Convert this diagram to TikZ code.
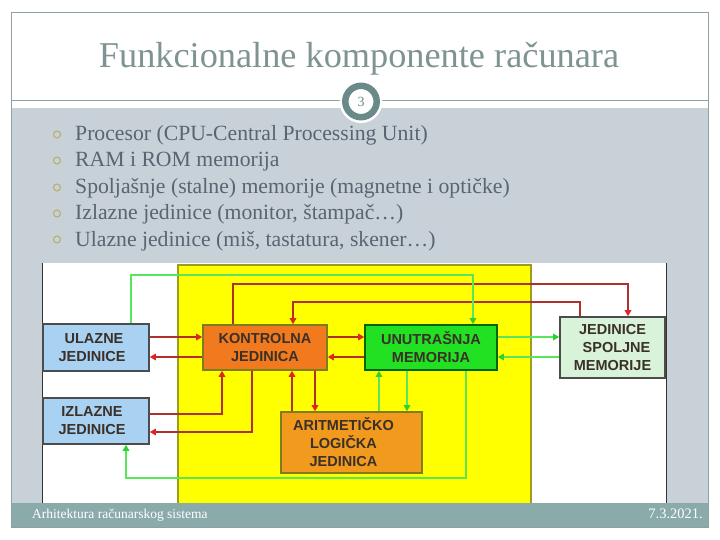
\documentclass[tikz,border=0pt]{standalone}
\usepackage{fontspec}
\setmainfont{Liberation Serif}
\setsansfont{Liberation Sans}
\usetikzlibrary{arrows.meta}
\definecolor{titlec}{HTML}{7F9393}
\definecolor{bodyc}{HTML}{5A6472}
\definecolor{graybg}{HTML}{C7D1D7}
\definecolor{footc}{HTML}{8BABAB}
\definecolor{ringc}{HTML}{6A8A8A}
\definecolor{bulc}{HTML}{B4AE62}
\definecolor{framec}{HTML}{8FA0A0}
\definecolor{yelc}{HTML}{FFFF00}
\definecolor{yelb}{HTML}{9C9C20}
\definecolor{bluec}{HTML}{A9D1F2}
\definecolor{kontc}{HTML}{F27A1E}
\definecolor{aluc}{HTML}{F29A1E}
\definecolor{memc}{HTML}{22E022}
\definecolor{spc}{HTML}{D9F2DA}
\definecolor{redl}{HTML}{B0302E}
\definecolor{redt}{HTML}{E02424}
\definecolor{grnl}{HTML}{5AE65A}
\definecolor{grnt}{HTML}{30D030}
\definecolor{boxtext}{HTML}{3A3028}
\tikzset{
  unit/.style={draw=#1, line width=1.6pt, font=\sffamily\bfseries\fontsize{14.5}{18}\selectfont,
    text=boxtext, align=center, inner sep=0pt},
  redc/.style={draw=redl, line width=1.8pt, -{Triangle[length=6pt,width=6.5pt,color=redt]}},
  grnc/.style={draw=grnl, line width=2pt, -{Triangle[length=6pt,width=6.5pt,color=grnt]}},
  bul/.style={circle, draw=bulc, line width=1pt, minimum size=7pt, inner sep=0pt},
  item/.style={anchor=base west, text=bodyc, font=\fontsize{21.7}{24}\selectfont, inner sep=0pt}
}
\begin{document}
\begin{tikzpicture}[x=1pt,y=-1pt]
\useasboundingbox (0,0) rectangle (720,540);
\fill[white] (0,0) rectangle (720,540);
% slide frame
\fill[graybg] (11,108) rectangle (708,503);
\fill[footc] (11,503) rectangle (708,527);
\draw[framec, line width=0.8pt] (11,12) rectangle (708,527);
\draw[framec, line width=0.8pt] (11,100) -- (708,100);
% title
\node[anchor=base, text=titlec, font=\fontsize{36.3}{42}\selectfont, inner sep=0pt] (title) at (359,68) {Funkcionalne komponente računara};
% slide number
\fill[white] (361,101.5) circle (21.5);
\draw[ringc, line width=6.5pt] (361,101.5) circle (15.7);
\node[text=ringc, font=\fontsize{14}{16}\selectfont, inner sep=0pt] (num) at (361,101.5) {3};
% bullets
\foreach \yy in {141,167,194,220,246} { \node[bul] at (57,\yy-6.5) {}; }
\node[item] (i1) at (75,141) {Procesor (CPU-Central Processing Unit)};
\node[item] (i2) at (75,167) {RAM i ROM memorija};
\node[item] (i3) at (75,194) {Spoljašnje (stalne) memorije (magnetne i optičke)};
\node[item] (i4) at (75,220) {Izlazne jedinice (monitor, štampač…)};
\node[item] (i5) at (75,246) {Ulazne jedinice (miš, tastatura, skener…)};
% picture
\fill[white] (42,263) rectangle (667,503);
\draw[black!80, line width=1.8pt] (42.5,263) -- (42.5,503);
\draw[black!80, line width=1.8pt] (666.5,263) -- (666.5,503);
\fill[yelc] (178,265) rectangle (531,503);
\draw[yelb, line width=1.2pt] (178,503) -- (178,265) -- (531,265) -- (531,503);
% units
\node[unit=black!70, fill=bluec, minimum width=106pt, minimum height=47pt] (ul) at (96,347.5) {\hspace*{-8pt}\ ULAZNE\\\hspace*{-8pt}JEDINICE};
\node[unit=black!70, fill=bluec, minimum width=106pt, minimum height=46pt] (iz) at (96,421) {\hspace*{-8pt}IZLAZNE\\\hspace*{-8pt}JEDINICE};
\node[unit=yelb!80!black, fill=kontc, minimum width=124pt, minimum height=45pt] (k) at (265,347.5) {KONTROLNA\\JEDINICA};
\node[unit=green!40!black, fill=memc, minimum width=132pt, minimum height=45pt] (m) at (431,347.5) {UNUTRAŠNJA\\MEMORIJA};
\node[unit=yelb!80!black, fill=aluc, minimum width=141pt, minimum height=61pt] (a) at (351.5,442.5) {\hspace*{-16pt}ARITMETIČKO\\\hspace*{-16pt}LOGIČKA\\\hspace*{-16pt}JEDINICA};
\node[unit=black!70, fill=spc, minimum width=105pt, minimum height=61pt] (s) at (612.5,347.5) {JEDINICE\\\ \ SPOLJNE\\MEMORIJE};
% red connectors
\draw[redc] (ul.east |- 0,337) -- (k.west |- 0,337);
\draw[redc] (k.west |- 0,357) -- (ul.east |- 0,357);
\draw[redc] (k.east |- 0,337) -- (m.west |- 0,337);
\draw[redc] (m.west |- 0,357) -- (k.east |- 0,357);
\draw[redc] (iz.east |- 0,414) -| (222,0 |- k.south);
\draw[redc] (252,0 |- k.south) |- (iz.east |- 0,432);
\draw[redc] (292,0 |- a.north) -- (292,0 |- k.south);
\draw[redc] (315,0 |- k.south) -- (315,0 |- a.north);
\draw[redc] (233,0 |- k.north) -- (233,284) -| (628,0 |- s.north);
\draw[redc] (580,0 |- s.north) -- (580,302) -| (293,0 |- k.north);
% green connectors
\draw[grnc] (m.east |- 0,337) -- (s.west |- 0,337);
\draw[grnc] (s.west |- 0,357) -- (m.east |- 0,357);
\draw[grnc] (131,0 |- ul.north) -- (131,275) -| (473,0 |- m.north);
\draw[grnc] (466,0 |- m.south) -- (466,478) -| (126,0 |- iz.south);
\draw[grnc] (379,0 |- a.north) -- (379,0 |- m.south);
\draw[grnc] (407,0 |- m.south) -- (407,0 |- a.north);
% footer
\node[anchor=base west, text=white, font=\fontsize{13.5}{15}\selectfont, inner sep=0pt] (f1) at (32,518) {Arhitektura računarskog sistema};
\node[anchor=base east, text=white, font=\fontsize{14.5}{16}\selectfont, inner sep=0pt] (f2) at (703,518) {7.3.2021.};
\end{tikzpicture}
\end{document}
